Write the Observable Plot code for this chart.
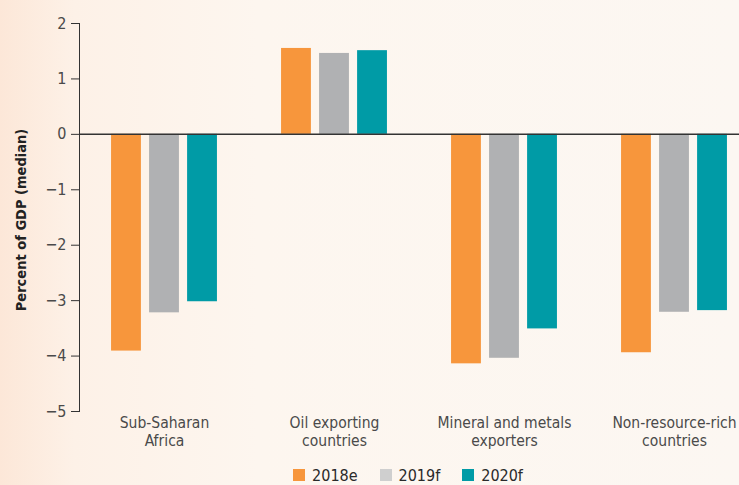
<!DOCTYPE html>
<html>
<head>
<meta charset="utf-8">
<script src="https://cdn.jsdelivr.net/npm/d3@7"></script>
<script src="https://cdn.jsdelivr.net/npm/@observablehq/plot@0.6"></script>
<style>
html, body { margin: 0; padding: 0; }
body {
  position: relative;
  width: 739px; height: 485px; overflow: hidden;
  background: linear-gradient(90deg, #fce7d8 0%, #fdf1e7 10%, #fdf6ef 35%, #fcf7f2 100%);
  font-family: "Liberation Sans Narrow", "DejaVu Sans Condensed", "Roboto", sans-serif;
}
#chart svg { overflow: visible; }
#chart g[aria-label="y-axis tick label"] text { fill: #4a4a4a; }
#chart g[aria-label="fx-axis tick label"] text { fill: #4a4a4a; }
#ytitle {
  position: absolute; left: 21px; top: 220px;
  transform: translate(-50%, -50%) rotate(-90deg);
  white-space: nowrap; font-weight: bold; font-size: 14.5px; color: #222;
}
#legend {
  display: flex; justify-content: center; align-items: center;
  padding-left: 77px; padding-top: 10px; height: 20px;
  font-size: 16px; color: #2a2a2a;
}
#legend .item { display: flex; align-items: center; margin: 0 11px; }
#legend .sw { width: 12px; height: 12px; margin-right: 7px; display: inline-block; }
</style>
</head>
<body>
<div id="chart"></div>
<div id="legend"></div>
<div id="ytitle"></div>
<script>
const categories = ["Sub-Saharan\nAfrica", "Oil exporting\ncountries", "Mineral and metals\nexporters", "Non-resource-rich\ncountries"];
const years = ["2018e", "2019f", "2020f"];
const values2018e = [-3.91, 1.55, -4.14, -3.94];
const values2019f = [-3.22, 1.46, -4.04, -3.21];
const values2020f = [-3.02, 1.51, -3.51, -3.18];
const yTicks = [-5, -4, -3, -2, -1, 0, 1, 2];
const yTitle = "Percent of GDP (median)";
const barColors = ["#f7963c", "#b0b1b3", "#009ba6"];
const legendColors = ["#f7963c", "#cfcfcf", "#009ba6"];

const series = [values2018e, values2019f, values2020f];
const data = [];
categories.forEach((c, i) => {
  years.forEach((y, j) => data.push({category: c, year: y, value: series[j][i]}));
});

const hasAxisMarks = typeof Plot.axisFx === "function";
const fxAxis = hasAxisMarks
  ? [Plot.axisFx({anchor: "bottom", tickSize: 0, tickPadding: 3, lineHeight: 1.2, fontSize: 15.5, label: null})]
  : [];

const chart = Plot.plot({
  width: 739,
  height: 455,
  marginLeft: 77,
  marginRight: -21,
  marginTop: 23,
  marginBottom: 44,
  style: {background: "transparent", fontFamily: "'Liberation Sans Narrow', 'DejaVu Sans Condensed', sans-serif", fontSize: "16px", color: "#333"},
  fx: hasAxisMarks
    ? {domain: categories, padding: 0, label: null, axis: null}
    : {domain: categories, padding: 0, label: null, tickSize: 0, tickPadding: 3, axis: "bottom"},
  x: {domain: years, paddingInner: 0.215, paddingOuter: 0.843, round: false, axis: null},
  y: {
    domain: [-5, 2], ticks: yTicks,
    tickFormat: d => d < 0 ? "\u2212" + Math.abs(d) : String(d),
    tickSize: 8, tickPadding: 5, line: true, label: null
  },
  color: {domain: years, range: barColors},
  marks: [
    ...fxAxis,
    Plot.barY(data, {fx: "category", x: "year", y: "value", fill: "year"}),
    Plot.ruleY([0], {stroke: "#333", strokeWidth: 1.5})
  ]
});
document.getElementById("chart").appendChild(chart);
document.getElementById("ytitle").textContent = yTitle;

const legend = document.getElementById("legend");
years.forEach((y, j) => {
  const item = document.createElement("span");
  item.className = "item";
  const sw = document.createElement("span");
  sw.className = "sw";
  sw.style.background = legendColors[j];
  const t = document.createElement("span");
  t.textContent = y;
  item.appendChild(sw);
  item.appendChild(t);
  legend.appendChild(item);
});
</script>
</body>
</html>
